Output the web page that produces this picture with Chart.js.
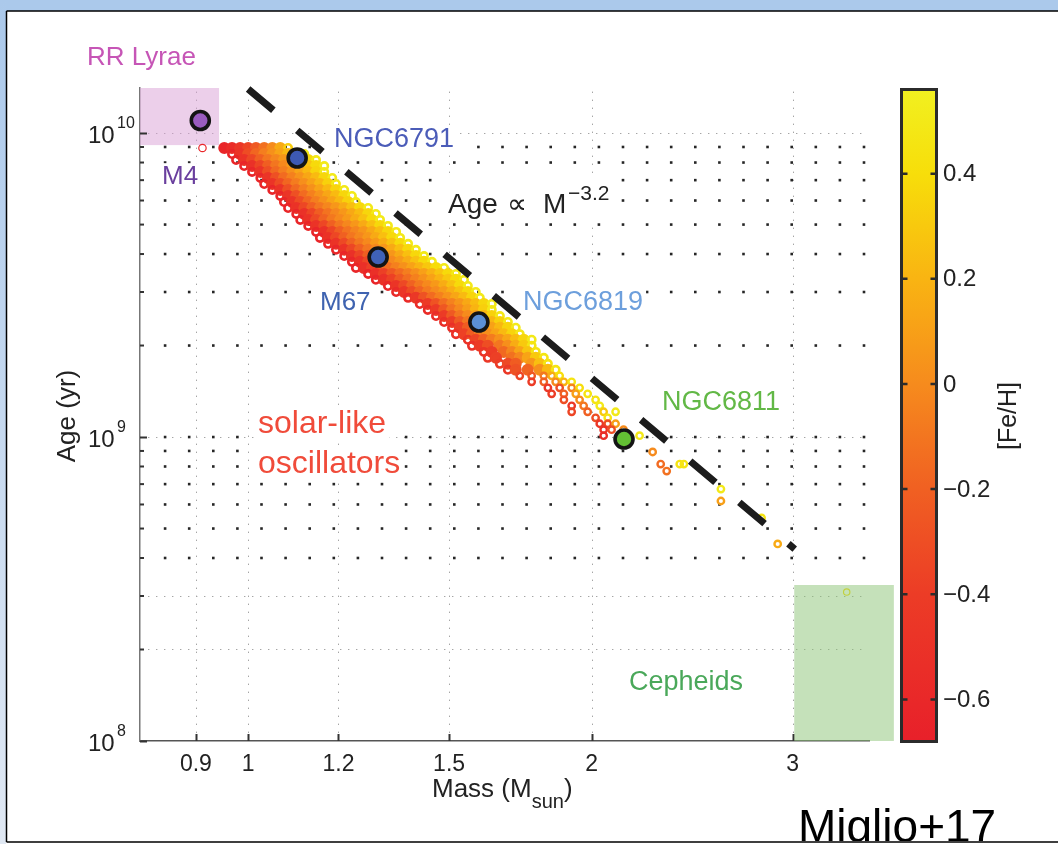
<!DOCTYPE html>
<html>
<head>
<meta charset="utf-8">
<script src="https://cdn.jsdelivr.net/npm/chart.js@4.4.0/dist/chart.umd.min.js"></script>
<style>
  html, body { margin: 0; padding: 0; background: #fff; }
  #wrap { width: 1058px; height: 844px; }
</style>
</head>
<body>
<div id="wrap"><canvas id="ageMass" width="1058" height="844"></canvas></div>
<script>
// Model grid: one row per age (Gyr); masses in Msun and [Fe/H] of each model
const rowAge = [
  8.93, 8.53, 8.15, 7.79, 7.45, 7.12, 6.80, 6.50, 6.21, 5.93,
  5.67, 5.42, 5.18, 4.95, 4.73, 4.52, 4.32, 4.13, 3.94, 3.77,
  3.60, 3.44, 3.29, 3.14, 3.00, 2.87, 2.74, 2.62, 2.50, 2.39,
  2.29, 2.18, 2.09, 1.995, 1.906, 1.822, 1.741, 1.664, 1.590, 1.519,
  1.452, 1.387, 1.326, 1.267, 1.211, 1.157, 1.106, 1.057, 1.010,
  0.893, 0.815, 0.773, 0.674, 0.616, 0.542, 0.445, 0.309
];
const rowMass = [
  [0.912, 0.953, 0.968, 0.984, 1.000, 1.016, 1.033, 1.050, 1.067, 1.084],
  [0.968, 0.984, 1.000, 1.016, 1.033, 1.050, 1.067, 1.084, 1.102, 1.120],
  [0.976, 0.992, 1.008, 1.025, 1.041, 1.058, 1.075, 1.093, 1.111, 1.129, 1.147],
  [0.992, 1.008, 1.025, 1.041, 1.058, 1.075, 1.093, 1.111, 1.129, 1.147, 1.166],
  [1.008, 1.025, 1.041, 1.058, 1.075, 1.093, 1.111, 1.129, 1.147, 1.166],
  [1.025, 1.041, 1.058, 1.075, 1.093, 1.111, 1.129, 1.147, 1.166, 1.185],
  [1.033, 1.050, 1.067, 1.084, 1.102, 1.120, 1.138, 1.156, 1.175, 1.194],
  [1.050, 1.067, 1.084, 1.102, 1.120, 1.138, 1.156, 1.175, 1.194, 1.214],
  [1.067, 1.084, 1.102, 1.120, 1.138, 1.156, 1.175, 1.194, 1.214, 1.233],
  [1.075, 1.093, 1.111, 1.129, 1.147, 1.166, 1.185, 1.204, 1.223, 1.243],
  [1.084, 1.102, 1.120, 1.138, 1.156, 1.175, 1.194, 1.214, 1.233, 1.253, 1.274],
  [1.102, 1.120, 1.138, 1.156, 1.175, 1.194, 1.214, 1.233, 1.253, 1.274, 1.294],
  [1.111, 1.129, 1.147, 1.166, 1.185, 1.204, 1.223, 1.243, 1.263, 1.284, 1.305],
  [1.129, 1.147, 1.166, 1.185, 1.204, 1.223, 1.243, 1.263, 1.284, 1.305, 1.326],
  [1.147, 1.166, 1.185, 1.204, 1.223, 1.243, 1.263, 1.284, 1.305, 1.326, 1.348],
  [1.156, 1.175, 1.194, 1.214, 1.233, 1.253, 1.274, 1.294, 1.315, 1.337, 1.359],
  [1.175, 1.194, 1.214, 1.233, 1.253, 1.274, 1.294, 1.315, 1.337, 1.359, 1.381],
  [1.194, 1.214, 1.233, 1.253, 1.274, 1.294, 1.315, 1.337, 1.359, 1.381, 1.403],
  [1.214, 1.233, 1.253, 1.274, 1.294, 1.315, 1.337, 1.359, 1.381, 1.403, 1.426],
  [1.233, 1.253, 1.274, 1.294, 1.315, 1.337, 1.359, 1.381, 1.403, 1.426, 1.449],
  [1.243, 1.263, 1.284, 1.305, 1.326, 1.348, 1.370, 1.392, 1.414, 1.437, 1.461, 1.485],
  [1.274, 1.294, 1.315, 1.337, 1.359, 1.381, 1.403, 1.426, 1.449, 1.473, 1.497, 1.521],
  [1.294, 1.315, 1.337, 1.359, 1.381, 1.403, 1.426, 1.449, 1.473, 1.497, 1.521, 1.546],
  [1.326, 1.348, 1.370, 1.392, 1.414, 1.437, 1.461, 1.485, 1.509, 1.533, 1.558],
  [1.348, 1.370, 1.392, 1.414, 1.437, 1.461, 1.485, 1.509, 1.533, 1.558, 1.583],
  [1.381, 1.403, 1.426, 1.449, 1.473, 1.497, 1.521, 1.546, 1.571, 1.596],
  [1.414, 1.437, 1.461, 1.485, 1.509, 1.533, 1.558, 1.583, 1.609, 1.635],
  [1.437, 1.461, 1.485, 1.509, 1.533, 1.558, 1.583, 1.609, 1.635],
  [1.461, 1.485, 1.509, 1.533, 1.558, 1.583, 1.609, 1.635, 1.662],
  [1.485, 1.509, 1.533, 1.558, 1.583, 1.609, 1.635, 1.662, 1.689],
  [1.509, 1.533, 1.558, 1.583, 1.609, 1.635, 1.662, 1.689, 1.716],
  [1.521, 1.546, 1.571, 1.596, 1.622, 1.649, 1.675, 1.703, 1.730],
  [1.558, 1.583, 1.609, 1.635, 1.662, 1.689, 1.716, 1.744, 1.772],
  [1.571, 1.596, 1.622, 1.662, 1.689, 1.716, 1.744, 1.772],
  [1.609, 1.635, 1.675, 1.703, 1.730, 1.758, 1.787],
  [1.622, 1.649, 1.703, 1.730, 1.758, 1.787, 1.816],
  [1.662, 1.689, 1.716, 1.772, 1.801, 1.831],
  [1.689, 1.716, 1.758, 1.801, 1.831, 1.860],
  [1.730, 1.772, 1.816, 1.845, 1.875],
  [1.772, 1.816, 1.860, 1.891, 1.921],
  [1.831, 1.875, 1.921, 1.952],
  [1.845, 1.891, 1.937, 1.984],
  [1.891, 1.952, 2.016],
  [1.921, 1.968, 2.033],
  [1.921, 1.984, 2.049, 2.099],
  [2.016, 2.066],
  [2.033, 2.066, 2.099],
  [2.049, 2.082, 2.133],
  [2.049, 2.203],
  [2.262],
  [2.299, 2.389, 2.409],
  [2.327],
  [2.596],
  [2.596],
  [2.818],
  [2.911],
  [3.346]
];
const rowFeh = [
  [-0.62, -0.62, -0.55, -0.45, -0.35, -0.24, -0.12, 0.00, 0.15, 0.32],
  [-0.62, -0.48, -0.31, -0.17, -0.06, 0.03, 0.12, 0.22, 0.35, 0.50],
  [-0.62, -0.50, -0.34, -0.20, -0.10, -0.02, 0.06, 0.15, 0.25, 0.37, 0.50],
  [-0.63, -0.51, -0.35, -0.21, -0.10, -0.01, 0.07, 0.15, 0.26, 0.38, 0.51],
  [-0.62, -0.48, -0.30, -0.16, -0.06, 0.03, 0.12, 0.22, 0.35, 0.50],
  [-0.61, -0.47, -0.29, -0.15, -0.05, 0.04, 0.13, 0.23, 0.36, 0.50],
  [-0.62, -0.48, -0.31, -0.17, -0.07, 0.02, 0.11, 0.21, 0.34, 0.49],
  [-0.63, -0.49, -0.30, -0.16, -0.06, 0.03, 0.12, 0.22, 0.35, 0.50],
  [-0.62, -0.47, -0.29, -0.15, -0.05, 0.04, 0.13, 0.23, 0.36, 0.51],
  [-0.61, -0.48, -0.31, -0.17, -0.06, 0.03, 0.12, 0.22, 0.34, 0.49],
  [-0.62, -0.50, -0.34, -0.20, -0.10, -0.02, 0.06, 0.15, 0.25, 0.37, 0.50],
  [-0.63, -0.51, -0.35, -0.21, -0.11, -0.02, 0.06, 0.14, 0.24, 0.36, 0.50],
  [-0.62, -0.50, -0.33, -0.19, -0.09, -0.01, 0.07, 0.16, 0.26, 0.38, 0.51],
  [-0.62, -0.49, -0.34, -0.20, -0.10, -0.02, 0.06, 0.15, 0.25, 0.37, 0.50],
  [-0.63, -0.51, -0.35, -0.21, -0.11, -0.03, 0.05, 0.14, 0.24, 0.36, 0.49],
  [-0.62, -0.50, -0.34, -0.20, -0.10, -0.02, 0.06, 0.15, 0.25, 0.37, 0.50],
  [-0.61, -0.49, -0.33, -0.19, -0.09, -0.01, 0.07, 0.16, 0.26, 0.38, 0.51],
  [-0.62, -0.50, -0.34, -0.20, -0.10, -0.02, 0.06, 0.15, 0.25, 0.37, 0.50],
  [-0.63, -0.51, -0.35, -0.21, -0.10, -0.02, 0.06, 0.15, 0.25, 0.37, 0.50],
  [-0.62, -0.50, -0.34, -0.20, -0.10, -0.01, 0.07, 0.16, 0.26, 0.38, 0.51],
  [-0.62, -0.52, -0.38, -0.25, -0.14, -0.05, 0.03, 0.11, 0.20, 0.29, 0.39, 0.50],
  [-0.63, -0.52, -0.38, -0.25, -0.15, -0.06, 0.02, 0.10, 0.19, 0.28, 0.38, 0.50],
  [-0.62, -0.51, -0.37, -0.24, -0.14, -0.05, 0.03, 0.11, 0.20, 0.29, 0.39, 0.51],
  [-0.60, -0.48, -0.33, -0.19, -0.09, -0.01, 0.07, 0.16, 0.26, 0.38, 0.50],
  [-0.58, -0.46, -0.31, -0.18, -0.08, 0.00, 0.08, 0.17, 0.27, 0.38, 0.50],
  [-0.57, -0.44, -0.28, -0.15, -0.05, 0.04, 0.13, 0.23, 0.35, 0.50],
  [-0.55, -0.42, -0.27, -0.14, -0.04, 0.05, 0.14, 0.24, 0.36, 0.50],
  [-0.56, -0.42, -0.25, -0.11, -0.01, 0.09, 0.20, 0.33, 0.49],
  [-0.55, -0.41, -0.24, -0.10, 0.00, 0.10, 0.21, 0.34, 0.49],
  [-0.53, -0.40, -0.23, -0.10, 0.00, 0.10, 0.21, 0.34, 0.50],
  [-0.52, -0.38, -0.22, -0.09, 0.01, 0.11, 0.22, 0.35, 0.50],
  [-0.50, -0.37, -0.21, -0.08, 0.02, 0.12, 0.23, 0.35, 0.49],
  [-0.48, -0.35, -0.20, -0.07, 0.03, 0.13, 0.24, 0.36, 0.50],
  [-0.52, -0.42, -0.30, -0.10, 0.02, 0.16, 0.30, 0.46],
  [-0.48, -0.40, -0.16, -0.03, 0.12, 0.28, 0.45],
  [-0.44, -0.38, -0.12, -0.02, 0.12, 0.30, 0.46],
  [-0.40, -0.33, -0.22, 0.06, 0.25, 0.45],
  [-0.44, -0.28, -0.18, 0.02, 0.22, 0.46],
  [-0.35, -0.25, -0.10, 0.15, 0.40],
  [-0.40, -0.20, 0.00, 0.20, 0.45],
  [-0.45, -0.30, -0.05, 0.40],
  [-0.40, -0.20, 0.10, 0.45],
  [-0.30, 0.00, 0.45],
  [-0.45, -0.10, 0.50],
  [-0.35, -0.20, 0.30, 0.50],
  [-0.30, 0.45],
  [-0.45, -0.30, 0.10],
  [-0.50, -0.30, 0.00],
  [-0.55, 0.50],
  [0.00],
  [-0.15, 0.45, 0.45],
  [-0.12],
  [0.50],
  [0.10],
  [0.45],
  [0.15],
  [0.40]
];

// Open clusters with asteroseismic ages
const clusterNames = ['M4', 'NGC6791', 'M67', 'NGC6819', 'NGC6811'];
const clusterMass = [0.908, 1.104, 1.30, 1.593, 2.135];
const clusterAge = [1.10e10, 8.28e9, 3.91e9, 2.39e9, 0.985e9];
const clusterColors = ['#9a5cbf', '#3d59b4', '#3f62b8', '#5b90d6', '#63c034'];

// Age ∝ M^-3.2 guide line, end points
const slopeMass = [1.0, 3.013];
const slopeAge = [1.396e10, 4.28e8];

// Shaded regions
const rrLyraeMass = [0.804, 0.943];
const rrLyraeAge = [9.13e9, 1.407e10];
const cepheidMass = [3.01, 3.68];
const cepheidAge = [1e8, 3.26e8];

// Axes
const massRange = [0.804, 3.5];
const ageRange = [1e8, 1.407e10];
const massTicks = [0.9, 1, 1.2, 1.5, 2, 3];
const ageDecades = [1e8, 1e9, 1e10];
const ageMinor = [2e8, 3e8, 4e8, 5e8, 6e8, 7e8, 8e8, 9e8, 2e9, 3e9, 4e9, 5e9, 6e9, 7e9, 8e9, 9e9];
const fineAgeLines = [2e8, 3e8, 1e9, 1e10];
const dotAgeRows = [4e8, 5e8, 6e8, 7e8, 8e8, 9e8, 1e9, 2e9, 3e9, 4e9, 5e9, 6e9, 7e9, 8e9, 9e9];
const fehTicks = [-0.6, -0.4, -0.2, 0, 0.2, 0.4];
const fehRange = [-0.68, 0.56];

const W = 1058, H = 844;
const FONT = '"Liberation Sans", Arial, Helvetica, sans-serif';

// red -> orange -> yellow metallicity map
const fehStops = [
  [-0.68, [232, 32, 42]],
  [-0.4, [236, 60, 38]],
  [-0.2, [240, 96, 34]],
  [0.0, [246, 139, 29]],
  [0.2, [249, 180, 18]],
  [0.4, [247, 222, 10]],
  [0.56, [241, 240, 32]]
];
function fehColor(v) {
  v = Math.max(fehRange[0], Math.min(fehRange[1], v));
  for (let i = 1; i < fehStops.length; i++) {
    const [v1, c1] = fehStops[i];
    const [v0, c0] = fehStops[i - 1];
    if (v <= v1) {
      const t = (v - v0) / (v1 - v0);
      const c = c0.map((a, k) => Math.round(a + (c1[k] - a) * t));
      return `rgb(${c[0]},${c[1]},${c[2]})`;
    }
  }
  return 'rgb(241,240,32)';
}

// flatten the grid into one scatter dataset; the ends of each row and
// the sparse young rows stay as open rings
const bandPoints = [], bandStroke = [], bandFill = [], bandRadius = [], bandWidth = [];
rowAge.forEach((age, r) => {
  const masses = rowMass[r];
  masses.forEach((m, i) => {
    bandPoints.push({ x: m, y: age * 1e9 });
    const c = fehColor(rowFeh[r][i]);
    const sparse = age < 1.6;
    const edge = i === 0 || i === masses.length - 1 || sparse;
    bandStroke.push(c);
    bandFill.push(edge ? 'rgba(0,0,0,0)' : c);
    bandRadius.push(edge ? (sparse ? 3.2 : 3.7) : 4.7);
    bandWidth.push(m < 0.93 || m > 3.2 ? 1.2 : (sparse ? 2.4 : 2.6));
  });
});

// text placed on the figure: [text, x, baseline, size, colour, clears grid]
const notes = [
  ['RR Lyrae', 87, 65, 26, '#c655b6', false],
  ['M4', 162, 184, 26, '#6a3f9e', true],
  ['NGC6791', 334, 147, 27, '#4b5cb8', true],
  ['M67', 320, 310, 26, '#3f63b0', true],
  ['NGC6819', 523, 310, 27, '#6d9fdc', true],
  ['NGC6811', 662, 410, 27, '#62b846', false],
  ['solar-like', 258, 433, 32, '#f04b3a', true],
  ['oscillators', 258, 473, 32, '#f04b3a', true],
  ['Cepheids', 629, 690, 27, '#4aa85a', false]
];

function textBox(ctx, text, x, base, size) {
  ctx.font = `${size}px ${FONT}`;
  const w = ctx.measureText(text).width;
  ctx.fillRect(x - 3, base - size * 0.8, w + 6, size * 1.05);
}

const decor = {
  id: 'decor',
  beforeDraw(chart) {
    const ctx = chart.ctx;
    ctx.save();
    ctx.fillStyle = '#fff';
    ctx.fillRect(0, 0, W, H);
    ctx.fillStyle = '#abc9eb';
    ctx.fillRect(0, 0, W, 11);
    const g = ctx.createLinearGradient(0, 0, 0, H);
    g.addColorStop(0, '#abc9eb');
    g.addColorStop(1, '#e0e8f3');
    ctx.fillStyle = g;
    ctx.fillRect(0, 0, 6, H);
    ctx.restore();
  },
  beforeDatasetsDraw(chart) {
    const { ctx, chartArea: a, scales: { x, y } } = chart;
    ctx.save();
    // fine dotted grid at the labelled values
    ctx.strokeStyle = '#a5a5a5';
    ctx.lineWidth = 1;
    ctx.setLineDash([1.4, 6.6]);
    massTicks.forEach(v => {
      const px = Math.round(x.getPixelForValue(v)) + 0.5;
      ctx.beginPath(); ctx.moveTo(px, a.bottom); ctx.lineTo(px, a.top + 3); ctx.stroke();
    });
    fineAgeLines.forEach(v => {
      const py = Math.round(y.getPixelForValue(v)) + 0.5;
      ctx.beginPath(); ctx.moveTo(a.left, py); ctx.lineTo(a.right - 4, py); ctx.stroke();
    });
    ctx.setLineDash([]);
    // heavy dotted rows of the minor grid
    ctx.fillStyle = '#262626';
    dotAgeRows.forEach(v => {
      const py = y.getPixelForValue(v);
      for (let k = 1; k <= 30; k++) {
        const px = a.left + 1 + k * 24.1;
        ctx.fillRect(px - 1.3, py - 1.3, 2.6, 2.6);
      }
    });
    // labels sit on white
    ctx.fillStyle = '#fff';
    notes.forEach(n => { if (n[5]) textBox(ctx, n[0], n[1], n[2], n[3]); });
    ctx.fillRect(444, 178, 172, 44);
    // RR Lyrae band
    ctx.fillStyle = 'rgba(218,160,214,0.5)';
    const rx0 = x.getPixelForValue(rrLyraeMass[0]), rx1 = x.getPixelForValue(rrLyraeMass[1]);
    const ry0 = y.getPixelForValue(rrLyraeAge[0]), ry1 = y.getPixelForValue(rrLyraeAge[1]);
    ctx.fillRect(rx0, ry1, rx1 - rx0, ry0 - ry1);
    // tick marks, pointing inwards
    ctx.strokeStyle = '#333';
    ctx.lineWidth = 2;
    massTicks.forEach(v => {
      const px = Math.round(x.getPixelForValue(v)) + 0.5;
      ctx.beginPath(); ctx.moveTo(px, a.bottom); ctx.lineTo(px, a.bottom - 7); ctx.stroke();
    });
    ageDecades.forEach(v => {
      const py = Math.round(y.getPixelForValue(v)) + 0.5;
      ctx.beginPath(); ctx.moveTo(a.left, py); ctx.lineTo(a.left + 7, py); ctx.stroke();
    });
    ageMinor.forEach(v => {
      const py = y.getPixelForValue(v);
      ctx.beginPath(); ctx.moveTo(a.left, py); ctx.lineTo(a.left + 4, py); ctx.stroke();
    });
    ctx.restore();
  },
  afterDatasetsDraw(chart) {
    const { ctx, scales: { x, y } } = chart;
    ctx.save();
    // Cepheid band, laid over the models
    ctx.fillStyle = 'rgba(140,196,118,0.5)';
    const cx0 = x.getPixelForValue(cepheidMass[0]), cx1 = x.getPixelForValue(cepheidMass[1]);
    const cy0 = y.getPixelForValue(cepheidAge[0]), cy1 = y.getPixelForValue(cepheidAge[1]);
    ctx.fillRect(cx0, cy1, cx1 - cx0, cy0 - cy1);

    // annotations
    ctx.textBaseline = 'alphabetic';
    ctx.textAlign = 'left';
    notes.forEach(([t, nx, ny, size, color]) => {
      ctx.font = `${size}px ${FONT}`;
      ctx.fillStyle = color;
      ctx.fillText(t, nx, ny);
    });
    // Age ∝ M^-3.2
    ctx.fillStyle = '#222';
    ctx.font = `28px ${FONT}`;
    ctx.fillText('Age', 448, 213);
    ctx.fillText('\u221D', 507, 213);
    ctx.fillText('M', 543, 213);
    ctx.font = `21px ${FONT}`;
    ctx.fillText('\u22123.2', 568, 200);

    // y tick labels as powers of ten
    ageDecades.forEach(v => {
      const py = y.getPixelForValue(v);
      ctx.fillStyle = '#222';
      ctx.font = `24px ${FONT}`;
      ctx.fillText('10', 88, py + 10);
      ctx.font = `16px ${FONT}`;
      ctx.fillText(String(Math.round(Math.log10(v))), 117, py - 5);
    });

    // axis titles
    ctx.fillStyle = '#222';
    ctx.font = `26px ${FONT}`;
    ctx.fillText('Mass (M', 432, 797);
    let mx = 432 + ctx.measureText('Mass (M').width;
    ctx.font = `20px ${FONT}`;
    ctx.fillText('sun', mx, 808);
    mx += ctx.measureText('sun').width;
    ctx.font = `26px ${FONT}`;
    ctx.fillText(')', mx, 797);

    ctx.save();
    ctx.translate(68, 416);
    ctx.rotate(-Math.PI / 2);
    ctx.textAlign = 'center';
    ctx.textBaseline = 'middle';
    ctx.font = `26px ${FONT}`;
    ctx.fillText('Age (yr)', 0, 0);
    ctx.restore();

    // colour bar
    const bx0 = 901.5, bx1 = 936.5, by0 = 89.5, by1 = 741.5;
    const fy = v => by1 - (v - fehRange[0]) / (fehRange[1] - fehRange[0]) * (by1 - by0);
    const grad = ctx.createLinearGradient(0, by1, 0, by0);
    fehStops.forEach(([v, c]) => {
      grad.addColorStop((v - fehRange[0]) / (fehRange[1] - fehRange[0]), `rgb(${c[0]},${c[1]},${c[2]})`);
    });
    ctx.fillStyle = grad;
    ctx.fillRect(bx0, by0, bx1 - bx0, by1 - by0);
    ctx.strokeStyle = '#2b2b2b';
    ctx.lineWidth = 3;
    ctx.strokeRect(bx0, by0, bx1 - bx0, by1 - by0);
    ctx.lineWidth = 2.5;
    ctx.fillStyle = '#222';
    ctx.font = `24px ${FONT}`;
    ctx.textBaseline = 'middle';
    fehTicks.forEach(v => {
      const py = fy(v);
      ctx.beginPath();
      ctx.moveTo(bx0, py); ctx.lineTo(bx0 + 6, py);
      ctx.moveTo(bx1, py); ctx.lineTo(bx1 - 6, py);
      ctx.stroke();
      const label = v === 0 ? '0' : (v < 0 ? '\u2212' : '') + Math.abs(v).toFixed(1);
      ctx.fillText(label, 943, py + 1);
    });
    ctx.save();
    ctx.translate(1009, 416);
    ctx.rotate(-Math.PI / 2);
    ctx.textAlign = 'center';
    ctx.font = `25px ${FONT}`;
    ctx.fillText('[Fe/H]', 0, 0);
    ctx.restore();

    // citation, cut by the slide edge
    ctx.save();
    ctx.beginPath();
    ctx.rect(0, 0, W, 841);
    ctx.clip();
    ctx.fillStyle = '#000';
    ctx.font = `46px ${FONT}`;
    ctx.textBaseline = 'alphabetic';
    ctx.fillText('Miglio+17', 798, 842);
    ctx.restore();

    // slide frame
    ctx.strokeStyle = '#000';
    ctx.lineWidth = 1.5;
    ctx.beginPath();
    ctx.moveTo(6.5, 11); ctx.lineTo(W, 11);
    ctx.moveTo(6.5, 11); ctx.lineTo(6.5, 842);
    ctx.moveTo(6.5, 842); ctx.lineTo(W, 842);
    ctx.stroke();
    ctx.restore();
  }
};

Chart.defaults.font.family = FONT;

new Chart(document.getElementById('ageMass'), {
  type: 'scatter',
  data: {
    datasets: [
      {
        label: 'clusters',
        data: clusterMass.map((m, i) => ({ x: m, y: clusterAge[i] })),
        pointRadius: 9,
        pointBorderWidth: 3.6,
        pointBorderColor: '#141414',
        pointBackgroundColor: clusterColors
      },
      {
        type: 'line',
        label: 'Age ∝ M^-3.2',
        data: slopeMass.map((m, i) => ({ x: m, y: slopeAge[i] })),
        borderColor: '#1c1c1c',
        borderWidth: 7,
        borderDash: [33, 31.2],
        borderCapStyle: 'butt',
        pointRadius: 0,
        tension: 0,
        clip: false
      },
      {
        label: 'models',
        data: bandPoints,
        pointRadius: bandRadius,
        pointBorderWidth: bandWidth,
        pointBorderColor: bandStroke,
        pointBackgroundColor: bandFill
      }
    ]
  },
  options: {
    responsive: false,
    devicePixelRatio: 1,
    animation: false,
    events: [],
    layout: { padding: { top: 88, right: 189, left: 0, bottom: 0 } },
    plugins: { legend: { display: false }, tooltip: { enabled: false } },
    scales: {
      x: {
        type: 'logarithmic',
        min: massRange[0],
        max: massRange[1],
        afterFit(s) { s.height = 103; },
        afterBuildTicks(s) { s.ticks = massTicks.map(v => ({ value: v })); },
        grid: { display: false, drawTicks: false },
        border: { display: true, color: '#555', width: 1.5 },
        ticks: {
          autoSkip: false,
          maxRotation: 0,
          padding: 10,
          color: '#222',
          font: { size: 23 },
          callback: v => String(v)
        }
      },
      y: {
        type: 'logarithmic',
        min: ageRange[0],
        max: ageRange[1],
        afterFit(s) { s.width = 140; },
        grid: { display: false, drawTicks: false },
        border: { display: true, color: '#777', width: 1.5 },
        ticks: { display: false }
      }
    }
  },
  plugins: [decor]
});
</script>
</body>
</html>
